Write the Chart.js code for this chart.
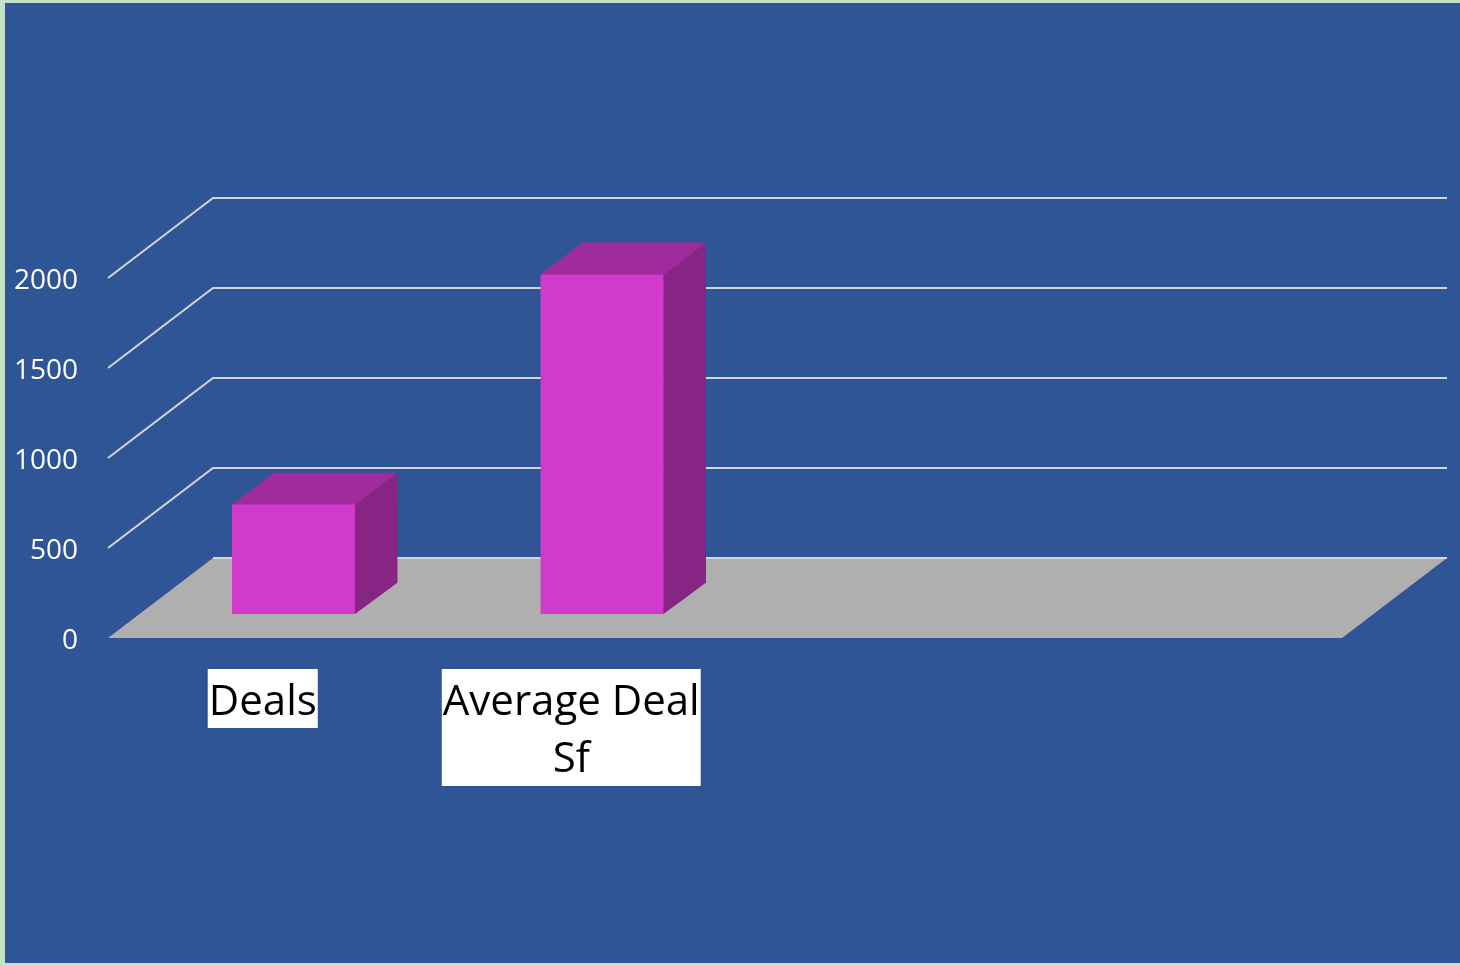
<!DOCTYPE html>
<html>
<head>
<meta charset="utf-8">
<style>
  html, body { margin: 0; padding: 0; background: #c3e1c8; }
  #wrap { width: 1460px; height: 966px; }
</style>
<script src="https://cdn.jsdelivr.net/npm/chart.js@4/dist/chart.umd.min.js"></script>
</head>
<body>
<div id="wrap"><canvas id="c" width="1460" height="966"></canvas></div>
<script>
// ---- data ----
const categories = ['Deals', ['Average Deal', 'Sf'], '', ''];
const values = [611, 1889, null, null];
const yTicks = [0, 500, 1000, 1500, 2000];

// ---- 3D styling ----
const DEPTH_X = 105, DEPTH_Y = 80;        // full depth of the floor / walls
const BAR_OFF = 0.3, BAR_DEPTH = 0.4;     // bar position within depth
const COLORS = {
  page: '#c3e1c8', bg: '#2f5597', grid: '#d6d6d6', floor: '#afafaf',
  front: '#d13acb', top: '#a02c9b', side: '#872585'
};

const threeD = {
  id: 'threeD',
  beforeDraw(chart) {
    const ctx = chart.ctx;
    ctx.save();
    ctx.fillStyle = COLORS.page;
    ctx.fillRect(0, 0, chart.width, chart.height);
    ctx.fillStyle = COLORS.bg;
    ctx.fillRect(5, 3, chart.width - 5, chart.height - 6);
    ctx.restore();
  },
  beforeDatasetsDraw(chart) {
    const ctx = chart.ctx;
    const a = chart.chartArea;
    const y = chart.scales.y;
    const y0 = y.getPixelForValue(0);
    ctx.save();
    // floor
    ctx.fillStyle = COLORS.floor;
    ctx.beginPath();
    ctx.moveTo(a.left, y0);
    ctx.lineTo(a.left + DEPTH_X, y0 - DEPTH_Y);
    ctx.lineTo(a.right + DEPTH_X, y0 - DEPTH_Y);
    ctx.lineTo(a.right, y0);
    ctx.closePath();
    ctx.fill();
    // gridlines
    ctx.strokeStyle = COLORS.grid;
    ctx.lineWidth = 2;
    yTicks.forEach(v => {
      const py = y.getPixelForValue(v);
      ctx.beginPath();
      if (v !== 0) {
        ctx.moveTo(a.left, py);
        ctx.lineTo(a.left + DEPTH_X, py - DEPTH_Y);
      } else {
        ctx.moveTo(a.left + DEPTH_X, py - DEPTH_Y);
      }
      ctx.lineTo(a.right + DEPTH_X, py - DEPTH_Y);
      ctx.stroke();
    });
    ctx.restore();
    // shift bars into depth
    ctx.save();
    ctx.translate(DEPTH_X * BAR_OFF, -DEPTH_Y * BAR_OFF);
  },
  afterDatasetsDraw(chart) {
    const ctx = chart.ctx;
    const dx = DEPTH_X * BAR_DEPTH, dy = DEPTH_Y * BAR_DEPTH * 0.98;
    const meta = chart.getDatasetMeta(0);
    meta.data.forEach((bar, i) => {
      if (values[i] == null) return;
      const p = bar.getProps(['x', 'y', 'base', 'width'], true);
      const l = p.x - p.width / 2, r = p.x + p.width / 2;
      const t = p.y, b = p.base;
      ctx.fillStyle = COLORS.side;
      ctx.beginPath();
      ctx.moveTo(r - 0.5, t); ctx.lineTo(r + dx, t - dy);
      ctx.lineTo(r + dx, b - dy); ctx.lineTo(r - 0.5, b);
      ctx.closePath(); ctx.fill();
      ctx.fillStyle = COLORS.top;
      ctx.beginPath();
      ctx.moveTo(l, t + 0.5); ctx.lineTo(l + dx, t - dy);
      ctx.lineTo(r + dx, t - dy); ctx.lineTo(r, t + 0.5);
      ctx.closePath(); ctx.fill();
    });
    ctx.restore();
  },
  afterDraw(chart) {
    // category labels in white boxes
    const ctx = chart.ctx;
    const x = chart.scales.x;
    const top = chart.chartArea.bottom + 31;
    const lineH = 58;
    ctx.save();
    ctx.font = '42px "Open Sans"';
    ctx.textAlign = 'center';
    ctx.textBaseline = 'alphabetic';
    categories.forEach((c, i) => {
      const lines = Array.isArray(c) ? c : [c];
      if (!lines.join('')) return;
      const cx = x.getPixelForValue(i) + 0.5;
      const w = Math.max(...lines.map(s => ctx.measureText(s).width)) + 2;
      ctx.fillStyle = '#ffffff';
      ctx.fillRect(cx - w / 2, top, w, lines.length * lineH + 1);
      ctx.fillStyle = '#000000';
      lines.forEach((s, k) => ctx.fillText(s, cx, top + 46 + k * 57));
    });
    ctx.restore();
  }
};

new Chart(document.getElementById('c'), {
  type: 'bar',
  data: {
    labels: categories,
    datasets: [{
      data: values,
      backgroundColor: COLORS.front,
      borderWidth: 0,
      barPercentage: 0.4,
      categoryPercentage: 1.0
    }]
  },
  options: {
    responsive: false,
    animation: false,
    events: [],
    layout: { padding: { top: 278, right: 118, bottom: 328, left: 0 } },
    plugins: { legend: { display: false }, tooltip: { enabled: false } },
    scales: {
      x: { display: false, offset: true },
      y: {
        min: 0, max: 2000,
        afterFit(scale) { scale.width = 108; },
        afterBuildTicks(scale) { scale.ticks = yTicks.map(v => ({ value: v })); },
        grid: { display: false, drawTicks: false },
        border: { display: false },
        ticks: {
          padding: 30,
          labelOffset: 3,
          color: '#ffffff',
          font: { family: '"Open Sans"', size: 28 },
          callback: (v) => String(v)
        }
      }
    }
  },
  plugins: [threeD]
});
</script>
</body>
</html>
